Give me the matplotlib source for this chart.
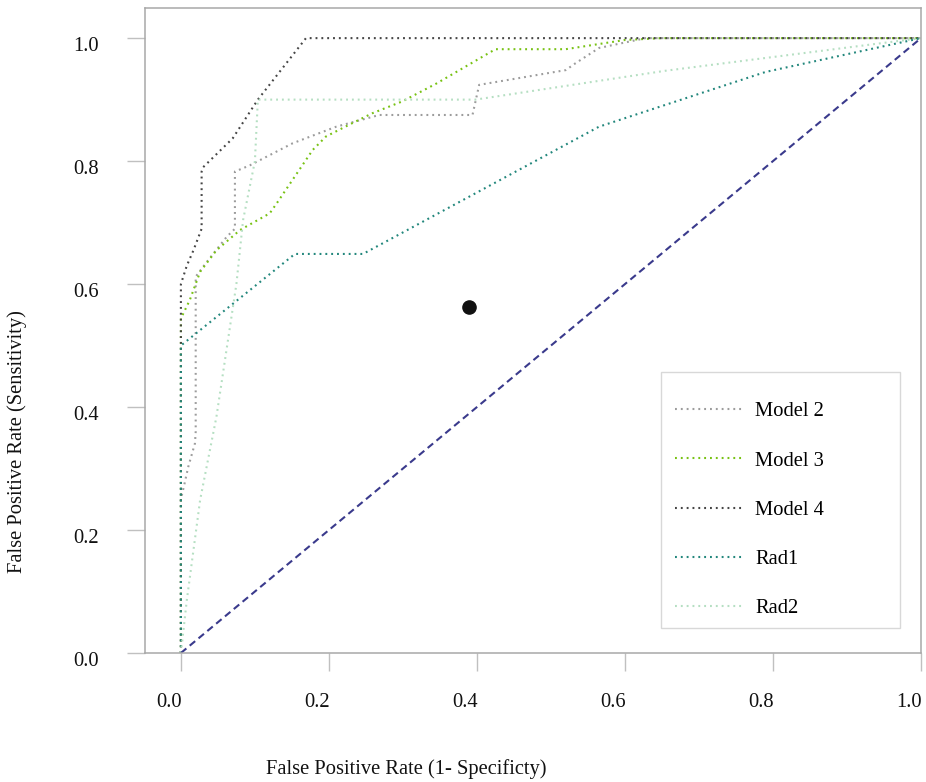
import matplotlib
matplotlib.use('Agg')
import matplotlib.pyplot as plt
import matplotlib.transforms as mtransforms
from matplotlib.patches import Rectangle

plt.rcParams['font.family'] = ['Liberation Serif', 'DejaVu Serif']

# ROC curves
model2_fpr = [0, 0, 0.005, 0.01, 0.019, 0.02, 0.02, 0.035, 0.062, 0.073, 0.073, 0.093,
              0.151, 0.21, 0.268, 0.394, 0.403, 0.52, 0.533, 0.565, 0.628, 1.0]
model2_tpr = [0, 0.25, 0.276, 0.303, 0.341, 0.36, 0.612, 0.636, 0.677, 0.69, 0.783, 0.793,
              0.829, 0.856, 0.875, 0.875, 0.924, 0.948, 0.959, 0.984, 1.0, 1.0]

model3_fpr = [0, 0, 0.012, 0.026, 0.048, 0.08, 0.12, 0.131, 0.178, 0.196, 0.232, 0.259,
              0.299, 0.345, 0.425, 0.52, 0.6, 0.65, 1.0]
model3_tpr = [0, 0.544, 0.574, 0.62, 0.655, 0.688, 0.715, 0.734, 0.818, 0.84, 0.862, 0.878,
              0.897, 0.926, 0.982, 0.982, 0.997, 1.0, 1.0]

model4_fpr = [0, 0, 0.008, 0.017, 0.028, 0.028, 0.03, 0.07, 0.104, 0.169, 1.0]
model4_tpr = [0, 0.6, 0.63, 0.655, 0.69, 0.783, 0.79, 0.837, 0.9, 1.0, 1.0]

rad1_fpr = [0, 0, 0.154, 0.246, 0.565, 0.79, 1.0]
rad1_tpr = [0, 0.5, 0.649, 0.649, 0.856, 0.945, 1.0]

rad2_fpr = [0, 0.008, 0.026, 0.048, 0.075, 0.084, 0.1, 0.104, 0.398, 0.655, 1.0]
rad2_tpr = [0, 0.086, 0.249, 0.384, 0.6, 0.704, 0.8, 0.9, 0.9, 0.947, 1.0]

cut_point = (0.389, 0.563)

labels = ['Model 2', 'Model 3', 'Model 4', 'Rad1', 'Rad2']
colors = ['#9c9c9c', '#78c214', '#454545', '#22877c', '#b5dfc2']
ticks = [0.0, 0.2, 0.4, 0.6, 0.8, 1.0]

fig = plt.figure(figsize=(9.26, 7.82), dpi=100)
ax = fig.add_axes([145 / 926, 1 - 653 / 782, 776 / 926, 645 / 782])

curves = [(model2_fpr, model2_tpr), (model3_fpr, model3_tpr), (model4_fpr, model4_tpr),
          (rad1_fpr, rad1_tpr), (rad2_fpr, rad2_tpr)]
handles = []
for (fx, ty), lab, col in zip(curves, labels, colors):
    ln, = ax.plot(fx, ty, color=col, lw=1.5, dashes=(0.9, 1.9), label=lab)
    handles.append(ln)

ax.plot([0, 1], [0, 1], color='#3a3a8c', lw=1.5, dashes=(3.4, 2.1))
ax.plot(*cut_point, 'o', color='#111111', ms=9.5)

ax.set_xlim(-0.0485, 1.0)
ax.set_ylim(0, 1.049)
ax.set_xticks(ticks)
ax.set_yticks(ticks)
ax.set_xticklabels([f'{t:.1f}' for t in ticks])
ax.set_yticklabels([f'{t:.1f}' for t in ticks])
ax.tick_params(length=13, width=1, color='#c0c0c0', labelsize=14.8, labelcolor='#111111')
ax.tick_params(axis='x', pad=16)
ax.tick_params(axis='y', pad=20)
for s in ax.spines.values():
    s.set_color('#a8a8a8')
    s.set_linewidth(1.1)

# tick labels sit a little off their ticks in the original
off_x = mtransforms.ScaledTranslation(-12 / 100, 0, fig.dpi_scale_trans)
for lbl in ax.get_xticklabels():
    lbl.set_transform(lbl.get_transform() + off_x)
off_y = mtransforms.ScaledTranslation(0, -6 / 100, fig.dpi_scale_trans)
for lbl in ax.get_yticklabels():
    lbl.set_transform(lbl.get_transform() + off_y)

fig.text(406 / 926, 1 - 769 / 782, 'False Positive Rate (1- Specificty)',
         ha='center', va='center', fontsize=14.8, color='#111111')
fig.text(17 / 926, 1 - 442 / 782, 'False Positive Rate (Sensitivity)',
         ha='center', va='center', rotation=90, fontsize=14.8, color='#111111')

# legend box
fig.patches.append(Rectangle((661 / 926, 1 - 628 / 782), 239 / 926, 256 / 782,
                             transform=fig.transFigure, facecolor='white',
                             edgecolor='#d8d8d8', lw=1.0, zorder=3))
leg = fig.legend(handles=handles, loc='upper left', bbox_to_anchor=(675 / 926, 1 - 402 / 782),
                 frameon=False, fontsize=14.8, handlelength=3.3, handletextpad=0.6,
                 labelspacing=1.45, borderaxespad=0, borderpad=0)
leg.set_zorder(4)

fig.savefig('out.png', dpi=100)
